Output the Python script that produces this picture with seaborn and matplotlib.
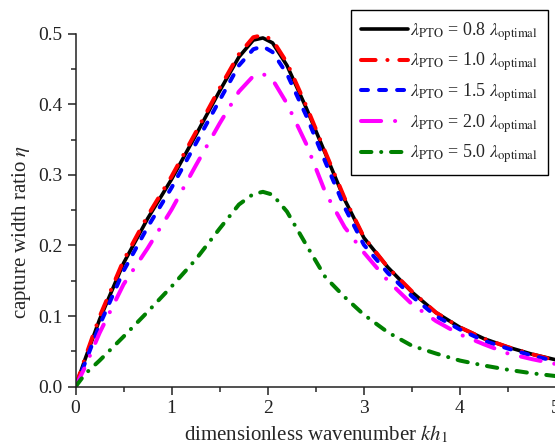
import numpy as np
import pandas as pd
import matplotlib
matplotlib.use("Agg")
import matplotlib.pyplot as plt
import seaborn as sns
from matplotlib.ticker import MultipleLocator

x = [0.0, 0.1, 0.25, 0.5, 0.75, 1.0, 1.25, 1.5, 1.7, 1.85, 1.95, 2.05, 2.2, 2.4,
     2.6, 2.8, 3.0, 3.25, 3.5, 3.75, 4.0, 4.25, 4.5, 4.75, 5.0]

eta_08 = [0.0, 0.039, 0.095, 0.175, 0.238, 0.294, 0.356, 0.419, 0.467, 0.491, 0.494, 0.487,
          0.455, 0.395, 0.330, 0.265, 0.211, 0.169, 0.134, 0.105, 0.084, 0.068, 0.056, 0.046, 0.038]
eta_10 = [0.0, 0.041, 0.099, 0.179, 0.242, 0.298, 0.360, 0.423, 0.471, 0.495, 0.498, 0.491,
          0.459, 0.398, 0.332, 0.267, 0.212, 0.169, 0.135, 0.105, 0.084, 0.068, 0.056, 0.046, 0.037]
eta_15 = [0.0, 0.034, 0.087, 0.164, 0.226, 0.282, 0.344, 0.406, 0.455, 0.478, 0.482, 0.474,
          0.443, 0.384, 0.318, 0.254, 0.201, 0.161, 0.128, 0.100, 0.081, 0.065, 0.054, 0.044, 0.036]
eta_20 = [0.0, 0.028, 0.076, 0.145, 0.196, 0.251, 0.313, 0.373, 0.418, 0.440, 0.443, 0.435,
          0.401, 0.344, 0.275, 0.226, 0.190, 0.150, 0.117, 0.093, 0.074, 0.060, 0.047, 0.039, 0.032]
eta_50 = [0.0, 0.018, 0.037, 0.071, 0.106, 0.142, 0.180, 0.224, 0.258, 0.273, 0.276, 0.272,
          0.248, 0.201, 0.155, 0.127, 0.102, 0.077, 0.058, 0.047, 0.037, 0.030, 0.024, 0.019, 0.015]

ratios = ["0.8", "1.0", "1.5", "2.0", "5.0"]
series = [eta_08, eta_10, eta_15, eta_20, eta_50]
colors = ["black", "#ff0000", "#0000ff", "#ff00ff", "#008000"]

sns.set_style("ticks")
plt.rcParams["font.family"] = ["Liberation Serif", "DejaVu Serif"]
plt.rcParams["mathtext.fontset"] = "stix"
plt.rcParams["lines.scale_dashes"] = False

fig = plt.figure(figsize=(5.55, 4.48), dpi=100)
ax = fig.add_axes([75.5 / 555, 1 - 386.7 / 448, (555 - 75.5) / 555 + 0.002, (386.7 - 33.7) / 448])

styles = [
    dict(linestyle="-", linewidth=2.6),
    dict(linestyle=(0, (10.5, 8.5, 0.1, 8.5)), linewidth=2.9),
    dict(linestyle=(0, (5.0, 8.0)), linewidth=2.9),
    dict(linestyle=(0, (14.5, 10.0, 0.1, 10.0)), linewidth=2.9),
    dict(linestyle=(0, (7.5, 7.0, 0.1, 7.0)), linewidth=2.9),
]

for r, s, c, st in zip(ratios, series, colors, styles):
    df = pd.DataFrame({"kh": x, "eta": s})
    sns.lineplot(data=df, x="kh", y="eta", ax=ax, color=c, estimator=None,
                 label=r"$\lambda_{\mathrm{PTO}}$ = " + r + r" $\lambda_{\mathrm{optimal}}$",
                 **st)
for ln in ax.get_lines():
    ln.set_dash_capstyle("round")
    ln.set_solid_capstyle("round")

ax.set_xlim(0, 5)
ax.set_ylim(0, 0.5)
ax.xaxis.set_major_locator(MultipleLocator(1))
ax.xaxis.set_minor_locator(MultipleLocator(0.5))
ax.yaxis.set_major_locator(MultipleLocator(0.1))
ax.yaxis.set_minor_locator(MultipleLocator(0.05))
ax.yaxis.set_major_formatter(matplotlib.ticker.FormatStrFormatter("%.1f"))
ax.tick_params(which="major", direction="out", length=6, width=1.1, labelsize=14, colors="#222222")
ax.tick_params(which="minor", direction="out", length=3.5, width=1.1)
for sp in ["top", "right"]:
    ax.spines[sp].set_visible(False)
for sp in ["left", "bottom"]:
    ax.spines[sp].set_linewidth(1.1)
    ax.spines[sp].set_color("#222222")

ax.set_xlabel(r"dimensionless wavenumber $kh_1$", fontsize=15, labelpad=5)
ax.set_ylabel(r"capture width ratio $\eta$", fontsize=15)
ax.yaxis.set_label_coords(-0.089, 0.437)

leg = ax.legend(loc="upper right", bbox_to_anchor=(548 / 555, 1 - 10 / 448),
                bbox_transform=fig.transFigure, borderaxespad=0, fontsize=13,
                frameon=True, fancybox=False, framealpha=1, edgecolor="black",
                handlelength=2.6, handletextpad=0.15, labelspacing=0.45,
                borderpad=0.55)
leg.get_frame().set_linewidth(1.0)

fig.savefig("out.png", dpi=100)
